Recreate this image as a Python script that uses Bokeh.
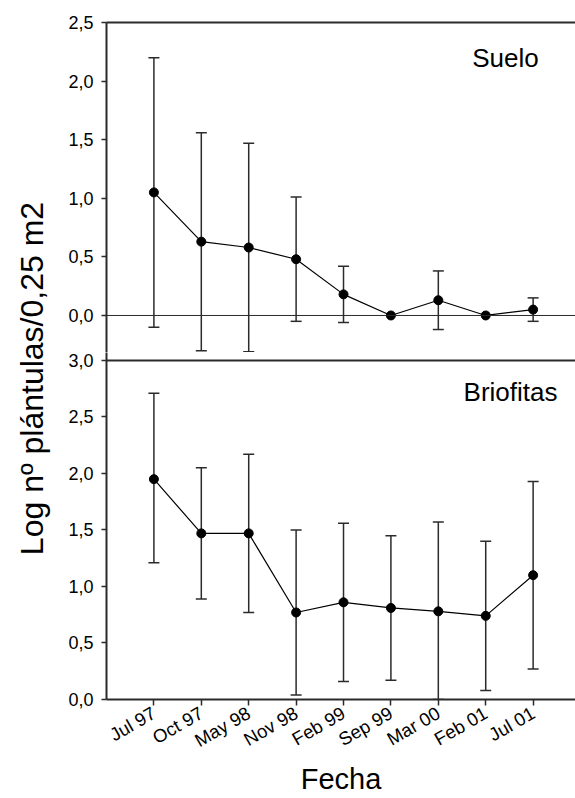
import math
from bokeh.plotting import figure
from bokeh.models import (Range1d, LinearAxis, FixedTicker, Span, Label, Whisker,
                          ColumnDataSource, TeeHead, CustomJSTickFormatter)
from bokeh.layouts import row, column
from bokeh.embed import file_html
from bokeh.resources import INLINE

# ---------------- data ----------------
fechas = ["Jul 97", "Oct 97", "May 98", "Nov 98", "Feb 99", "Sep 99", "Mar 00", "Feb 01", "Jul 01"]

suelo_media = [1.05, 0.63, 0.58, 0.48, 0.18, 0.00, 0.13, 0.00, 0.05]
suelo_sup = [2.20, 1.56, 1.47, 1.01, 0.42, None, 0.38, None, 0.15]
suelo_inf = [-0.10, -0.30, -0.31, -0.05, -0.06, None, -0.12, None, -0.05]

brio_media = [1.95, 1.47, 1.47, 0.77, 0.86, 0.81, 0.78, 0.74, 1.10]
brio_sup = [2.71, 2.05, 2.17, 1.50, 1.56, 1.45, 1.57, 1.40, 1.93]
brio_inf = [1.21, 0.89, 0.77, 0.04, 0.16, 0.17, 0.00, 0.08, 0.27]

ticks_suelo = [0.0, 0.5, 1.0, 1.5, 2.0, 2.5]
ticks_brio = [0.0, 0.5, 1.0, 1.5, 2.0, 2.5, 3.0]

# ---------------- styling ----------------
FONT = "Liberation Sans"
AX = "#2b2b2b"
idx = list(range(len(fechas)))
x_range = Range1d(-1, 8.894)
comma_fmt = CustomJSTickFormatter(code="return tick.toFixed(1).replace('.', ',');")


def style_left_axis(ax, ticks):
    ax.ticker = FixedTicker(ticks=ticks)
    ax.formatter = comma_fmt
    ax.axis_line_color = AX
    ax.axis_line_width = 2
    ax.major_tick_line_color = AX
    ax.major_tick_line_width = 1.5
    ax.major_tick_in = 0
    ax.major_tick_out = 5
    ax.minor_tick_line_color = None
    ax.major_label_standoff = 8
    ax.major_label_text_font = FONT
    ax.major_label_text_font_size = "18px"
    ax.major_label_text_color = "black"


def draw_series(p, media, sup, inf):
    xs = [i for i, s in zip(idx, sup) if s is not None]
    ups = [s for s in sup if s is not None]
    los = [l for l in inf if l is not None]
    wsrc = ColumnDataSource(dict(x=xs, upper=ups, lower=los))
    w = Whisker(base="x", upper="upper", lower="lower", source=wsrc, dimension="height",
                line_color=AX, line_width=1.5,
                upper_head=TeeHead(size=11, line_color=AX, line_width=1.5),
                lower_head=TeeHead(size=11, line_color=AX, line_width=1.5))
    p.add_layout(w)
    src = ColumnDataSource(dict(x=idx, y=media))
    p.line("x", "y", source=src, line_color="black", line_width=1.2)
    p.scatter("x", "y", source=src, size=9, fill_color="black", line_color="black")


# ---------------- top panel (Suelo) ----------------
top = figure(width=517, height=352, x_range=x_range, y_range=Range1d(-0.316, 2.5),
             output_backend="svg", toolbar_location=None, x_axis_location=None,
             min_border_left=48, min_border_right=0, min_border_top=22, min_border_bottom=0,
             outline_line_color=None, background_fill_color="white", border_fill_color="white")
top.grid.visible = False
style_left_axis(top.yaxis[0], ticks_suelo)
top_line = LinearAxis(ticker=FixedTicker(ticks=[]), axis_line_color=AX, axis_line_width=2,
                      major_tick_line_color=None, minor_tick_line_color=None,
                      major_label_text_font_size="0px")
top.add_layout(top_line, "above")
top.add_layout(Span(location=0, dimension="width", line_color=AX, line_width=1))
draw_series(top, suelo_media, suelo_sup, suelo_inf)
top.add_layout(Label(x=399, y=295, x_units="screen", y_units="screen", text="Suelo",
                     text_font=FONT, text_font_size="26px", text_align="center",
                     text_baseline="middle", text_color="black"))

# ---------------- bottom panel (Briofitas) ----------------
bot = figure(width=517, height=446, x_range=x_range, y_range=Range1d(0, 3.0706),
             output_backend="svg", toolbar_location=None,
             min_border_left=48, min_border_right=0, min_border_top=0, min_border_bottom=98,
             outline_line_color=None, background_fill_color="white", border_fill_color="white")
bot.grid.visible = False
style_left_axis(bot.yaxis[0], ticks_brio)
xa = bot.xaxis[0]
xa.ticker = FixedTicker(ticks=idx)
xa.major_label_overrides = {i: f for i, f in zip(idx, fechas)}
xa.axis_line_color = AX
xa.axis_line_width = 2
xa.major_tick_line_color = AX
xa.major_tick_line_width = 1.5
xa.major_tick_in = 0
xa.major_tick_out = 6
xa.minor_tick_line_color = None
xa.major_label_orientation = math.pi / 6
xa.major_label_standoff = 6
xa.major_label_text_font = FONT
xa.major_label_text_font_size = "18.5px"
xa.major_label_text_color = "black"
xa.axis_label = "Fecha"
xa.axis_label_text_font = FONT
xa.axis_label_text_font_size = "29px"
xa.axis_label_text_font_style = "normal"
xa.axis_label_text_color = "black"
xa.axis_label_standoff = 0
bot.add_layout(Span(location=3.0, dimension="width", line_color=AX, line_width=2))
draw_series(bot, brio_media, brio_sup, brio_inf)
bot.add_layout(Label(x=404, y=308, x_units="screen", y_units="screen", text="Briofitas",
                     text_font=FONT, text_font_size="26px", text_align="center",
                     text_baseline="middle", text_color="black"))

# ---------------- y label ----------------
lab = figure(width=58, height=798, x_range=Range1d(0, 58), y_range=Range1d(0, 798),
             output_backend="svg", toolbar_location=None, x_axis_location=None,
             y_axis_location=None, outline_line_color=None, min_border=0,
             background_fill_color="white", border_fill_color="white")
lab.grid.visible = False
lab.add_layout(Label(x=31, y=420, text="Log nº plántulas/0,25 m2", angle=math.pi / 2,
                     text_font=FONT, text_font_size="32px", text_align="center",
                     text_baseline="middle", text_color="black"))

layout = row(lab, column(top, bot, spacing=0), spacing=0)
open("out.html", "w").write(file_html(layout, INLINE))
